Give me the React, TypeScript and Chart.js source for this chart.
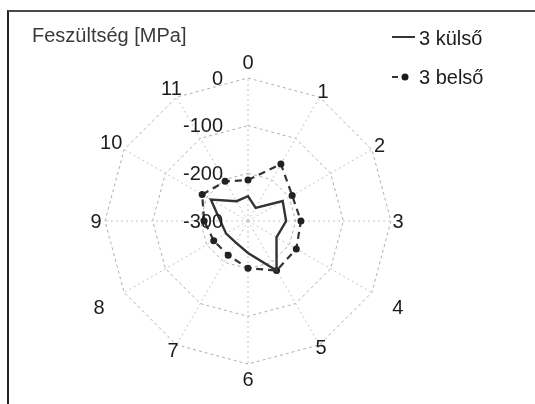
import React, { useEffect, useRef } from "react";
import { Chart, registerables } from "chart.js";

Chart.register(...registerables);

const categories = ["0", "1", "2", "3", "4", "5", "6", "7", "8", "9", "10", "11"];
const kulso = [-248, -268, -216, -220, -231, -180, -233, -248, -247, -242, -210, -252];
const belso = [-214, -162, -193, -189, -183, -180, -201, -217, -217, -208, -189, -204];
const tickValues = [-300, -200, -100, 0];
const titleText = "Feszültség [MPa]";
const seriesNames = ["3 külső", "3 belső"];

const FONT = '"Liberation Sans", Arial, sans-serif';
const INK = "#1c1c1c";
// distance of each category label beyond the outer ring (px)
const labelGap = [16, 7, 9, 7, 30, 3, 15, 7, 29, 9, 15, 10];

const overlayPlugin = {
  id: "overlay",
  afterDraw(chart: any) {
    const ctx = chart.ctx;
    const r = chart.scales.r;
    const outer = r.getDistanceFromCenterForValue(0);
    ctx.save();
    ctx.font = `20px ${FONT}`;
    ctx.fillStyle = INK;
    // category labels
    ctx.textAlign = "center";
    ctx.textBaseline = "middle";
    categories.forEach((c, i) => {
      const p = r.getPointPosition(i, outer + labelGap[i]);
      ctx.fillText(c, p.x, p.y + 1);
    });
    // tick labels
    ctx.textAlign = "right";
    tickValues.forEach((v) => {
      const d = r.getDistanceFromCenterForValue(v);
      ctx.fillText(String(v), r.xCenter - 25, r.yCenter - d + 1);
    });
    // title
    ctx.textAlign = "left";
    ctx.textBaseline = "alphabetic";
    ctx.fillStyle = "#3a3a3a";
    ctx.fillText(titleText, 32, 42);
    // legend
    ctx.fillStyle = INK;
    ctx.strokeStyle = "#333";
    ctx.lineWidth = 2;
    ctx.beginPath();
    ctx.moveTo(392, 37);
    ctx.lineTo(415, 37);
    ctx.stroke();
    ctx.fillText(seriesNames[0], 419, 45);
    ctx.beginPath();
    ctx.moveTo(392, 77);
    ctx.lineTo(398, 77);
    ctx.stroke();
    ctx.beginPath();
    ctx.arc(405, 77, 3.5, 0, Math.PI * 2);
    ctx.fill();
    ctx.fillText(seriesNames[1], 419, 84);
    ctx.restore();
  },
};

export default function App() {
  const ref = useRef<HTMLCanvasElement>(null);
  useEffect(() => {
    if (!ref.current) return;
    const chart = new Chart(ref.current, {
      type: "radar",
      data: {
        labels: categories,
        datasets: [
          {
            label: seriesNames[0],
            data: kulso,
            borderColor: "#333",
            borderWidth: 2.4,
            pointRadius: 0,
            fill: false,
            tension: 0,
          },
          {
            label: seriesNames[1],
            data: belso,
            borderColor: "#333",
            borderWidth: 2.2,
            borderDash: [7, 5],
            pointRadius: 3.5,
            pointBackgroundColor: "#222",
            pointBorderWidth: 0,
            fill: false,
            tension: 0,
          },
        ],
      },
      options: {
        responsive: false,
        animation: false,
        devicePixelRatio: 1,
        layout: { padding: { top: 78, bottom: 40, left: 60, right: 99 } },
        plugins: { legend: { display: false }, tooltip: { enabled: false }, title: { display: false } },
        scales: {
          r: {
            min: -300,
            max: 0,
            startAngle: 0,
            ticks: { stepSize: 100, display: false },
            grid: { color: "#b0b0b0", lineWidth: 1, circular: false },
            border: { dash: [3, 3] },
            angleLines: { color: "#c4c4c4", lineWidth: 1, borderDash: [2, 3] },
            pointLabels: { display: false },
          },
        },
      },
      plugins: [overlayPlugin],
    });
    return () => chart.destroy();
  }, []);

  return (
    <div style={{ position: "fixed", left: 0, top: 0, width: 535, height: 404, background: "#fff", overflow: "hidden" }}>
      <canvas ref={ref} width={535} height={404} style={{ position: "absolute", left: 0, top: 0 }} />
      <div
        style={{
          position: "absolute",
          left: 7,
          top: 10,
          width: 540,
          height: 400,
          borderTop: "2px solid #4a4a4a",
          borderLeft: "2px solid #222",
          pointerEvents: "none",
        }}
      />
    </div>
  );
}
